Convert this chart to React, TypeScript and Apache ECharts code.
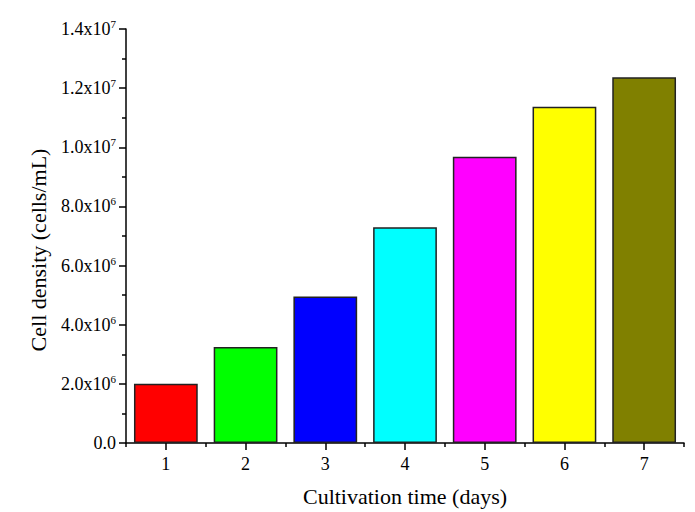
import React, { useEffect, useRef } from "react";
import * as echarts from "echarts";

const categories = ["1", "2", "3", "4", "5", "6", "7"];
const values = [2.0e6, 3.25e6, 4.95e6, 7.3e6, 9.68e6, 1.137e7, 1.237e7];
const colors = ["#FF0000", "#00FF00", "#0000FF", "#00FFFF", "#FF00FF", "#FFFF00", "#808000"];
const xTitle = "Cultivation time (days)";
const yTitle = "Cell density (cells/mL)";

const FONT = "Liberation Serif";

function fmt(v: number): string {
  if (v === 0) return "{a|0.0}";
  const exp = Math.floor(Math.log10(v) + 1e-9);
  const m = v / Math.pow(10, exp);
  return `{a|${m.toFixed(1)}x10}{b|${exp}}`;
}

export default function App() {
  const ref = useRef<HTMLDivElement>(null);
  useEffect(() => {
    document.body.style.margin = "0";
    const chart = echarts.init(ref.current!, null, { renderer: "svg" });
    chart.setOption({
      animation: false,
      backgroundColor: "#ffffff",
      textStyle: { fontFamily: FONT },
      grid: { left: 126, right: 11, top: 29, bottom: 68, containLabel: false },
      graphic: [
        {
          type: "text",
          x: 38,
          y: 250,
          rotation: Math.PI / 2,
          style: {
            text: yTitle,
            fontFamily: FONT,
            fontSize: 22,
            fill: "#000",
            align: "center",
            verticalAlign: "middle",
          },
        },
      ],
      xAxis: [
        {
          type: "category",
          data: categories,
          name: xTitle,
          nameLocation: "middle",
          nameGap: 42,
          nameTextStyle: { fontFamily: FONT, fontSize: 22, color: "#000" },
          axisLine: { show: true, lineStyle: { color: "#000", width: 1.5 } },
          axisTick: { show: true, alignWithLabel: true, length: 7, lineStyle: { color: "#000", width: 1.5 } },
          axisLabel: { fontFamily: FONT, fontSize: 18, color: "#000", margin: 12 },
          splitLine: { show: false },
        },
        {
          type: "category",
          data: categories,
          position: "bottom",
          axisLine: { show: false },
          axisTick: { show: true, alignWithLabel: false, length: 4, lineStyle: { color: "#000", width: 1.5 } },
          axisLabel: { show: false },
          splitLine: { show: false },
        },
      ],
      yAxis: {
        type: "value",
        min: 0,
        max: 1.4e7,
        interval: 2e6,
        axisLine: { show: true, lineStyle: { color: "#000", width: 1.5 } },
        axisTick: { show: true, length: 7, lineStyle: { color: "#000", width: 1.5 } },
        minorTick: { show: true, splitNumber: 2, length: 4, lineStyle: { color: "#000", width: 1.5 } },
        splitLine: { show: false },
        axisLabel: {
          margin: 10,
          color: "#000",
          formatter: (v: number) => fmt(v),
          rich: {
            a: { fontFamily: FONT, fontSize: 18, color: "#000" },
            b: { fontFamily: FONT, fontSize: 11, color: "#000", verticalAlign: "bottom", padding: [0, 0, 10, 0] },
          },
        },
      },
      series: [
        {
          type: "bar",
          xAxisIndex: 0,
          data: values.map((v, i) => ({
            value: v,
            itemStyle: { color: colors[i] },
          })),
          barCategoryGap: "20%",
          itemStyle: { borderColor: "#222", borderWidth: 1.5 },
        },
      ],
    });
    return () => chart.dispose();
  }, []);
  return <div ref={ref} style={{ width: 695, height: 512 }} />;
}
